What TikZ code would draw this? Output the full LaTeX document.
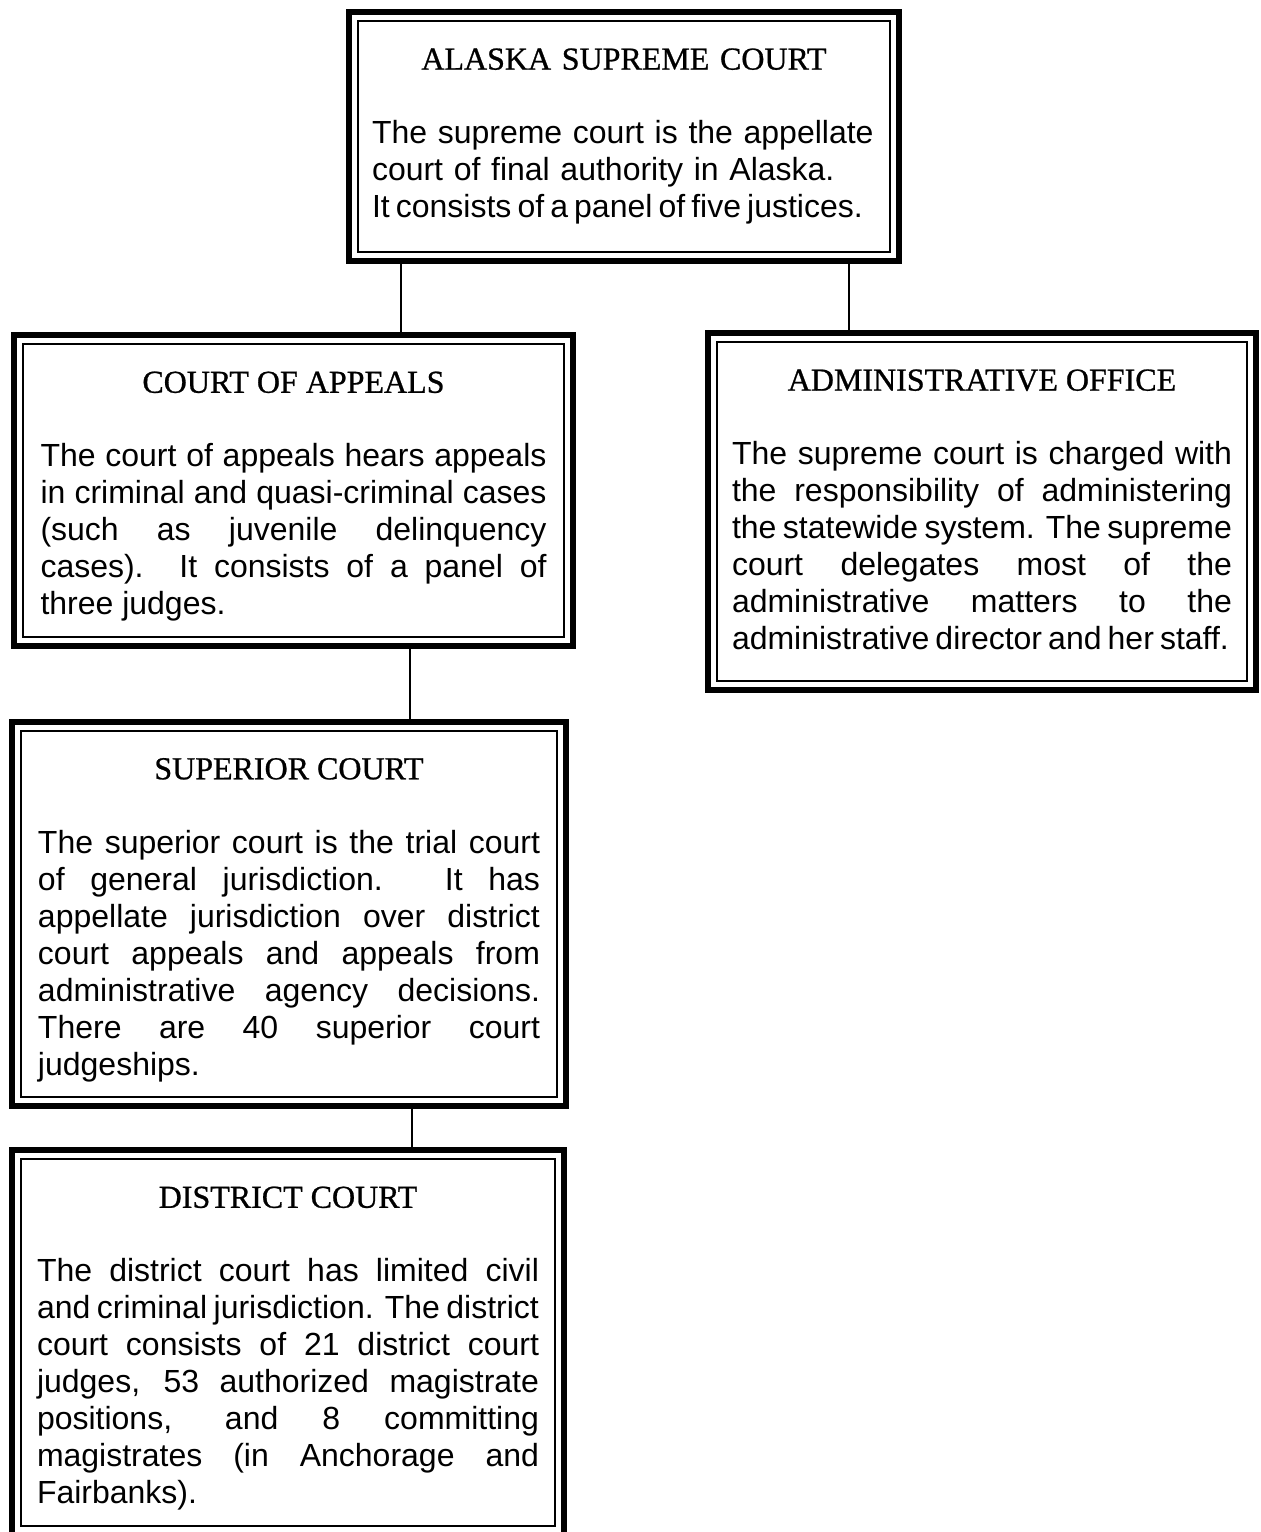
\documentclass[tikz,border=0pt]{standalone}
\usepackage{fontspec}
\setmainfont{Liberation Serif}
\setsansfont{Liberation Sans}
\newfontfamily\titlefont[FakeBold=0.8]{Liberation Serif}
\hyphenpenalty=10000
\exhyphenpenalty=10000

\newcommand{\courttitle}[1]{{\centering\titlefont\fontsize{16}{18.5}\selectfont\rule{0pt}{16.6pt}#1\par}\vspace{18.5pt}}
\newcommand{\tightline}[1]{{\spaceskip=0.19em plus 0.05em minus 0.05em #1}}
\newcommand{\deepend}[1]{\rule[-#1]{0pt}{1pt}}

\tikzset{
    court/.style={draw, line width=2.8pt, inner sep=0pt, outer sep=0pt, align=justify,
        font=\fontsize{16}{18.5}\selectfont\sffamily},
    frame/.style={line width=0.9pt},
    link/.style={line width=1pt}
}

\begin{document}
\begin{tikzpicture}[x=0.5pt, y=-0.5pt]

\useasboundingbox[fill=white] (0,0) rectangle (1260,1532);

\node[court, minimum width=275pt, minimum height=124.5pt, text width=252pt, align=left] (supreme) at (624,136.5)
{\courttitle{ALASKA SUPREME COURT}
The supreme court is the appellate\\ court of final authority in Alaska.\\ \tightline{It consists of a panel of five justices.}\deepend{9.5pt}};

\node[court, minimum width=279.5pt, minimum height=155.5pt, text width=253pt] (appeals) at (293.5,490.5)
{\courttitle{COURT OF APPEALS}
The court of appeals hears appeals\linebreak in criminal and quasi-criminal cases\linebreak (such as juvenile delinquency\linebreak cases).  It consists of a panel of\linebreak three judges.};

\node[court, minimum width=274pt, minimum height=178.5pt, text width=250pt] (admin) at (982,511.5)
{\courttitle{ADMINISTRATIVE OFFICE}
The supreme court is charged with\linebreak the responsibility of administering\linebreak the statewide system. The supreme\linebreak court delegates most of the\linebreak administrative matters to the\linebreak \tightline{administrative director and her staff.}\deepend{8pt}};

\node[court, minimum width=277pt, minimum height=192pt, text width=251pt] (superior) at (289,914)
{\courttitle{SUPERIOR COURT}
The superior court is the trial court\linebreak of general jurisdiction. It has\linebreak appellate jurisdiction over district\linebreak court appeals and appeals from\linebreak administrative agency decisions.\linebreak There are 40 superior court\linebreak judgeships.};

\node[court, minimum width=276pt, minimum height=192.5pt, text width=251pt] (district) at (288,1342.5)
{\courttitle{DISTRICT COURT}
The district court has limited civil\linebreak and criminal jurisdiction. The district\linebreak court consists of 21 district court\linebreak judges, 53 authorized magistrate\linebreak positions, and 8 committing\linebreak magistrates (in Anchorage and\linebreak Fairbanks).};

% inner thin frames
\foreach \n in {supreme,appeals,admin,superior,district}
{
    \draw[frame] ([shift={(4.5pt,-4.5pt)}]\n.north west) rectangle ([shift={(-4.5pt,4.5pt)}]\n.south east);
}

% connectors
\coordinate (c1) at ([xshift=53.75pt]appeals.north);
\coordinate (c2) at ([xshift=-66.5pt]admin.north);
\coordinate (c3) at ([xshift=60.5pt]superior.north);
\coordinate (c4) at ([xshift=62pt]district.north);

\draw[link] (c1) -- (c1 |- supreme.south);
\draw[link] (c2) -- (c2 |- supreme.south);
\draw[link] (c3) -- (c3 |- appeals.south);
\draw[link] (c4) -- (c4 |- superior.south);

\end{tikzpicture}
\end{document}
